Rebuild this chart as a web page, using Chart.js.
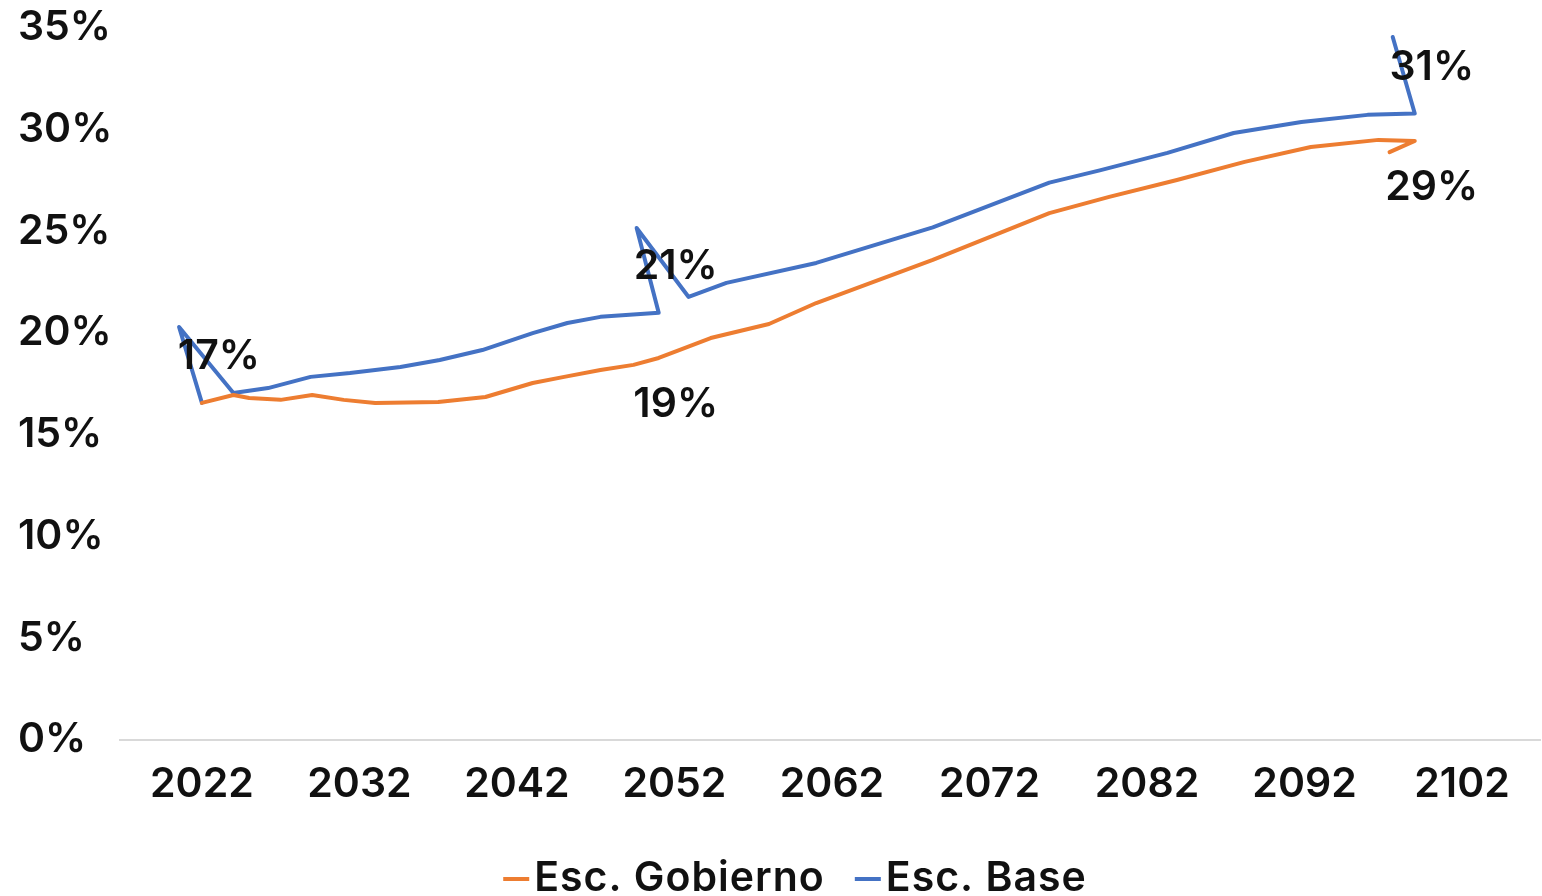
<!DOCTYPE html>
<html>
<head>
<meta charset="utf-8">
<script src="https://cdn.jsdelivr.net/npm/chart.js@4.4.1/dist/chart.umd.min.js"></script>
<style>
  html, body { margin: 0; padding: 0; background: #fff; }
  #wrap { width: 1542px; height: 896px; position: relative; }
</style>
</head>
<body>
<div id="wrap"><canvas id="lineChart"></canvas></div>
<script>
// x tick labels and y ticks
var tickYears = [2022, 2032, 2042, 2052, 2062, 2072, 2082, 2092, 2102];
var yTicks = [0, 5, 10, 15, 20, 25, 30, 35];

// Esc. Gobierno (orange), includes the little label leader stroke at the end
var gobiernoYears = [2022, 2024, 2025, 2027, 2029, 2031, 2033, 2037, 2040, 2043, 2045, 2047.3, 2049.4, 2051, 2052.3, 2054.3, 2058, 2061, 2068.4, 2075.8, 2079.6, 2083.9, 2088.2, 2092.4, 2096.7, 2099, 2097.4];
var gobiernoValues = [16.57, 16.96, 16.81, 16.72, 16.96, 16.72, 16.57, 16.62, 16.86, 17.55, 17.85, 18.19, 18.44, 18.78, 19.17, 19.76, 20.45, 21.48, 23.6, 25.9, 26.7, 27.53, 28.42, 29.15, 29.5, 29.45, 28.9];

// Esc. Base (blue) - the spikes near the labels are drawn as part of the line in the original
var baseYears = [2022, 2020.55, 2024, 2026.2, 2028.9, 2031.4, 2034.6, 2037.1, 2039.8, 2043, 2045.2, 2047.3, 2051, 2049.6, 2052.9, 2055.3, 2061, 2068.4, 2075.8, 2079, 2083.3, 2087.5, 2091.8, 2096, 2099, 2097.6];
var baseValues = [16.57, 20.3, 17.06, 17.3, 17.85, 18.04, 18.34, 18.68, 19.17, 20.0, 20.5, 20.8, 21.0, 25.17, 21.78, 22.47, 23.45, 25.2, 27.4, 28.0, 28.86, 29.84, 30.38, 30.73, 30.8, 34.56];

// years that carry a data label
var gobiernoLabelYears = [2051, 2099];
var baseLabelYears = [2022, 2051, 2099];

var orange = "#ED7D31";
var blue = "#4472C4";
var fontFamily = "Inter, 'Open Sans', sans-serif";
var fontSize = 41;
var fontWeight = 600;

function toPoints(years, values) {
  var pts = [];
  for (var i = 0; i < years.length; i++) {
    pts.push({ x: years[i], y: values[i] });
  }
  return pts;
}

var dataLabels = {
  id: "dataLabels",
  afterDatasetsDraw: function(chart) {
    var ctx = chart.ctx;
    ctx.save();
    ctx.font = fontWeight + " " + fontSize + "px " + fontFamily;
    ctx.fillStyle = "#111111";
    ctx.textAlign = "center";
    ctx.textBaseline = "middle";
    chart.data.datasets.forEach(function(ds, di) {
      var meta = chart.getDatasetMeta(di);
      ds.labelYears.forEach(function(year) {
        var idx = ds.years.indexOf(year);
        var pt = meta.data[idx];
        var text = Math.round(ds.data[idx].y) + "%";
        ctx.fillText(text, pt.x + 17, pt.y + ds.labelDy);
      });
    });
    ctx.restore();
  }
};

var bottomLegend = {
  id: "bottomLegend",
  afterDraw: function(chart) {
    var ctx = chart.ctx;
    var markW = 26, gap = 5, itemGap = 30, cy = 879;
    ctx.save();
    ctx.font = fontWeight + " " + fontSize + "px " + fontFamily;
    ctx.letterSpacing = "1px";
    var widths = chart.data.datasets.map(function(ds) { return markW + gap + ctx.measureText(ds.label).width; });
    var total = widths.reduce(function(a, b) { return a + b; }, 0) + itemGap * (widths.length - 1);
    var x = 795 - total / 2;
    ctx.textBaseline = "middle";
    ctx.textAlign = "left";
    chart.data.datasets.forEach(function(ds, i) {
      ctx.fillStyle = ds.borderColor;
      ctx.fillRect(x, cy - 2, markW, 4);
      ctx.fillStyle = "#111111";
      ctx.fillText(ds.label, x + markW + gap, cy);
      x += widths[i] + itemGap;
    });
    ctx.restore();
  }
};

new Chart(document.getElementById("lineChart"), {
  type: "line",
  data: {
    datasets: [{
      label: "Esc. Gobierno",
      data: toPoints(gobiernoYears, gobiernoValues),
      years: gobiernoYears,
      labelYears: gobiernoLabelYears,
      labelDy: 47,
      borderColor: orange,
      backgroundColor: orange,
      borderWidth: 4,
      borderJoinStyle: "round",
      borderCapStyle: "round",
      pointRadius: 0,
      tension: 0,
      fill: false
    }, {
      label: "Esc. Base",
      data: toPoints(baseYears, baseValues),
      years: baseYears,
      labelYears: baseLabelYears,
      labelDy: -46,
      borderColor: blue,
      backgroundColor: blue,
      borderWidth: 4,
      borderJoinStyle: "round",
      borderCapStyle: "round",
      pointRadius: 0,
      tension: 0,
      fill: false
    }]
  },
  plugins: [dataLabels, bottomLegend],
  options: {
    responsive: true,
    maintainAspectRatio: false,
    animation: false,
    layout: {
      padding: { left: 18, right: 2, top: 28, bottom: 96 }
    },
    plugins: {
      legend: { display: false },
      tooltip: { enabled: false }
    },
    scales: {
      x: {
        type: "linear",
        min: 2016.8,
        max: 2106.95,
        afterBuildTicks: function(axis) {
          axis.ticks = tickYears.map(function(v) { return { value: v }; });
        },
        afterFit: function(axis) { axis.height = 60; },
        grid: { display: false, drawTicks: false },
        border: { display: true, color: "#d9d9d9", width: 2 },
        ticks: {
          autoSkip: false,
          maxRotation: 0,
          padding: 20,
          color: "#111111",
          font: { family: fontFamily, size: fontSize, weight: fontWeight },
          callback: function(value) { return String(value); }
        }
      },
      y: {
        min: 0,
        max: 35,
        afterBuildTicks: function(axis) {
          axis.ticks = yTicks.map(function(v) { return { value: v }; });
        },
        afterFit: function(axis) { axis.width = 102; },
        grid: { display: false, drawTicks: false },
        border: { display: false },
        ticks: {
          crossAlign: "far",
          color: "#111111",
          font: { family: fontFamily, size: fontSize, weight: fontWeight },
          callback: function(value) { return value + "%"; }
        }
      }
    }
  }
});
</script>
</body>
</html>
